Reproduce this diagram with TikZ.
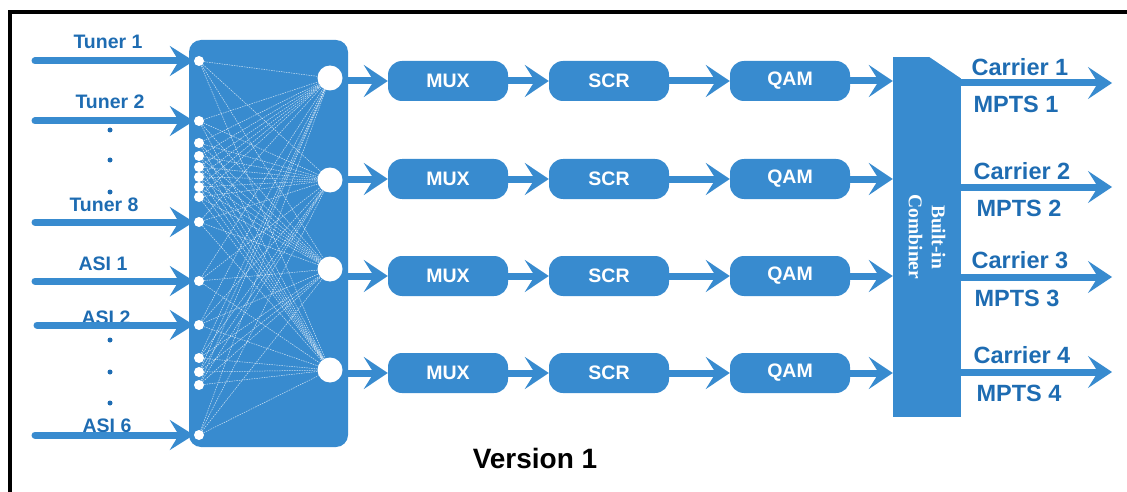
\documentclass[tikz,border=0pt]{standalone}
\usepackage{fontspec}
\setmainfont{Liberation Sans}
\newfontfamily\combfont{Liberation Serif}
\usetikzlibrary{arrows.meta}
\definecolor{boxblue}{RGB}{56,139,207}
\definecolor{labelblue}{RGB}{30,108,178}

\begin{document}
\begin{tikzpicture}[x=1pt,y=-1pt,
    stage/.style={fill=boxblue,rounded corners=14pt,minimum width=120pt,minimum height=40pt,
      text=white,font=\bfseries\fontsize{19.5}{19.5}\selectfont},
    port/.style={circle,fill=white,inner sep=0pt,minimum size=10pt},
    bigport/.style={circle,fill=white,inner sep=0pt,minimum size=25pt},
    inlabel/.style={text=labelblue,font=\bfseries\fontsize{19.5}{19.5}\selectfont},
    outlabel/.style={text=labelblue,font=\bfseries\fontsize{23.5}{23.5}\selectfont},
    feed/.style={boxblue,line width=7pt,line cap=round,-{Stealth[length=24pt,width=30pt,inset=9pt]}},
    link/.style={boxblue,line width=7pt,-{Stealth[length=24pt,width=32pt,inset=10pt]}},
    mesh/.style={white,line width=0.5pt,dash pattern=on 1.5pt off 1pt,opacity=0.75}]
  \useasboundingbox (0,0) rectangle (1127,492);
  \clip (0,0) rectangle (1127,492);
  \draw[line width=4pt] (9.5,12.5) rectangle (1140,520);

  % switch matrix
  \node[fill=boxblue,rounded corners=12pt,minimum width=159pt,minimum height=407pt] (sw) at (268.5,243.5) {};
  \foreach \i/\y in {1/61,2/121,3/143,4/156,5/167,6/177,7/187,8/197,9/222,
                     10/281,11/325,12/358,13/372,14/385,15/435}
    \node[port] (s\i) at (199,\y) {};
  \node[bigport] (b1) at (330,78) {};
  \node[bigport] (b2) at (330,180) {};
  \node[bigport] (b3) at (330,269) {};
  \node[bigport] (b4) at (330,370) {};
  \foreach \i in {1,...,15}
    \foreach \j in {1,...,4}
      \draw[mesh] (s\i) -- (b\j);

  % inputs
  \node[inlabel] (tun1) at (108,42) {Tuner 1};
  \node[inlabel] (tun2) at (110,102) {Tuner 2};
  \node[inlabel] (tun8) at (104,205) {Tuner 8};
  \node[inlabel] (asi1) at (103,264) {ASI 1};
  \node[inlabel] (asi2) at (106,318) {ASI 2};
  \node[inlabel] (asi6) at (107,426) {ASI 6};
  \foreach \y in {130,160,192,340,372,403}
    \fill[labelblue] (110,\y) circle (2.5pt);
  \coordinate (in1) at (35,61);
  \coordinate (in2) at (35,121);
  \coordinate (in3) at (35,222);
  \coordinate (in4) at (35,281);
  \coordinate (in5) at (37,325);
  \coordinate (in6) at (35,435);
  \draw[feed] (in1) -- (s1.west);
  \draw[feed] (in2) -- (s2.west);
  \draw[feed] (in3) -- (s9.west);
  \draw[feed] (in4) -- (s10.west);
  \draw[feed] (in5) -- (s11.west);
  \draw[feed] (in6) -- (s15.west);

  % processing chains
  \node[stage] (mux1) at (448,81) {MUX};
  \node[stage] (scr1) at (609,81) {SCR};
  \node[stage] (qam1) at (790,81) {QAM};
  \node[stage] (mux2) at (448,179) {MUX};
  \node[stage] (scr2) at (609,179) {SCR};
  \node[stage] (qam2) at (790,179) {QAM};
  \node[stage] (mux3) at (448,276) {MUX};
  \node[stage] (scr3) at (609,276) {SCR};
  \node[stage] (qam3) at (790,276) {QAM};
  \node[stage] (mux4) at (448,373) {MUX};
  \node[stage] (scr4) at (609,373) {SCR};
  \node[stage] (qam4) at (790,373) {QAM};

  % combiner
  \node[fill=boxblue,minimum width=68pt,minimum height=360pt,inner sep=0pt] (comb) at (927,237) {};
  \fill[white] (928,56) -- (962,56) -- (962,79) -- cycle;
  \node[rotate=-90,text=white,align=center,font=\combfont\bfseries\fontsize{19.5}{23}\selectfont]
    (combtext) at (comb.center) {Built-in\\Combiner};

  \foreach \k in {1,...,4} {
    \draw[link] (b\k.east |- mux\k) -- (mux\k.west);
    \draw[link] (mux\k.east) -- (scr\k.west);
    \draw[link] (scr\k.east) -- (qam\k.west);
    \draw[link] (qam\k.east) -- (qam\k -| comb.west);
  }

  % outputs
  \coordinate (c1) at (1112,83);
  \coordinate (c2) at (1112,187);
  \coordinate (c3) at (1112,277);
  \coordinate (c4) at (1112,372);
  \foreach \k in {1,...,4}
    \draw[link] (comb.east |- c\k) -- (c\k);
  \node[outlabel] (car1) at (1020,67) {Carrier 1};
  \node[outlabel] (car2) at (1022,171) {Carrier 2};
  \node[outlabel] (car3) at (1020,260) {Carrier 3};
  \node[outlabel] (car4) at (1022,355) {Carrier 4};
  \node[outlabel] (mpts1) at (1016,104) {MPTS 1};
  \node[outlabel] (mpts2) at (1019,208) {MPTS 2};
  \node[outlabel] (mpts3) at (1017,298) {MPTS 3};
  \node[outlabel] (mpts4) at (1019,393) {MPTS 4};

  \node[font=\bfseries\fontsize{28}{28}\selectfont] (ver) at (535,458) {Version 1};
\end{tikzpicture}
\end{document}
